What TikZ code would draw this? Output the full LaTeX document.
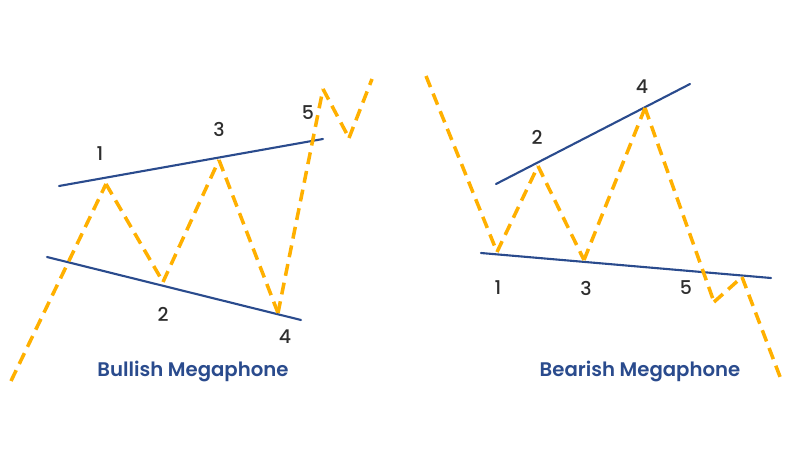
\documentclass[tikz,border=0pt]{standalone}
\usepackage{fontspec}
\setmainfont{Poppins}[BoldFont={Poppins SemiBold}]
\newfontfamily\digitfont{Poppins Medium}
\usetikzlibrary{positioning}
\definecolor{trendorange}{HTML}{FFB000}
\definecolor{lineblue}{HTML}{2A4B8D}
\definecolor{digitgray}{HTML}{2E2E2E}
\tikzset{
    trend/.style={trendorange, line width=2.5pt, dash pattern=on 8.5pt off 5pt},
    boundary/.style={lineblue, line width=1.5pt, line cap=round},
    wave/.style={text=digitgray, font=\digitfont\fontsize{13.5}{15}\selectfont, inner sep=0pt},
    caption/.style={text=lineblue, font=\fontsize{14}{16}\selectfont\bfseries, inner sep=0pt},
}
\begin{document}
\begin{tikzpicture}[x=0.025cm, y=-0.025cm]

    \useasboundingbox (0,0) rectangle (800,458);

    % Bullish trend points
    \coordinate (up0) at (11,381);
    \coordinate (up1) at (106,184);
    \coordinate (up2) at (163,282);
    \coordinate (up3) at (219,160);
    \coordinate (up4) at (278,313);
    \coordinate (up5) at (323,89);
    \coordinate (up6) at (349,138);
    \coordinate (up7) at (372,79);

    % Bullish boundaries
    \coordinate (upTopL) at (59,186);
    \coordinate (upTopR) at (323,139);
    \coordinate (upLowL) at (47,257);
    \coordinate (upLowR) at (301,320);
    \draw[boundary] (upTopL) -- (upTopR);
    \draw[boundary] (upLowL) -- (upLowR);

    \foreach \a/\b in {up0/up1, up1/up2, up2/up3, up3/up4, up4/up5, up5/up6, up6/up7}
        \draw[trend] (\a) -- (\b);

    % Bullish labels
    \node[wave] (upLabel1) at (100,154) {1};
    \node[wave] (upLabel2) at (163,314) {2};
    \node[wave] (upLabel3) at (219,129) {3};
    \node[wave] (upLabel4) at (285,337) {4};
    \node[wave] (upLabel5) at (308,113) {5};
    \node[caption] (upTitle) at (193,371) {Bullish Megaphone};

    % Bearish trend points
    \coordinate (down0) at (426,76);
    \coordinate (down1) at (497,252);
    \coordinate (down2) at (538,166);
    \coordinate (down3) at (584,260);
    \coordinate (down4) at (645,108);
    \coordinate (down5) at (714,302);
    \coordinate (down6) at (742,277);
    \coordinate (down7) at (782,382);

    % Bearish boundaries
    \coordinate (downTopL) at (496,184);
    \coordinate (downTopR) at (690,84);
    \coordinate (downLowL) at (481,253);
    \coordinate (downLowR) at (771,278);
    \draw[boundary] (downTopL) -- (downTopR);
    \draw[boundary] (downLowL) -- (downLowR);

    \foreach \a/\b in {down0/down1, down1/down2, down2/down3, down3/down4, down4/down5, down5/down6, down6/down7}
        \draw[trend] (\a) -- (\b);

    % Bearish labels
    \node[wave] (downLabel1) at (498,288) {1};
    \node[wave] (downLabel2) at (537,137) {2};
    \node[wave] (downLabel3) at (586,288) {3};
    \node[wave] (downLabel4) at (642,87) {4};
    \node[wave] (downLabel5) at (686,288) {5};
    \node[caption] (downTitle) at (640,371) {Bearish Megaphone};

\end{tikzpicture}
\end{document}
